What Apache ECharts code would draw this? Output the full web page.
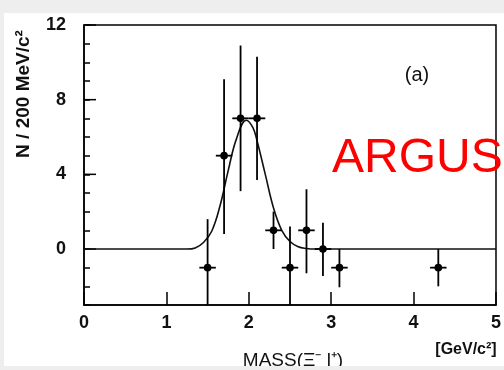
<!DOCTYPE html>
<html><head><meta charset="utf-8">
<script src="https://cdn.jsdelivr.net/npm/echarts@6/dist/echarts.min.js"></script>
<style>
html,body{margin:0;padding:0;background:#eeeeee;overflow:hidden;}
#paper{position:absolute;left:4px;top:13px;width:500px;height:353px;background:#fff;}
#c{position:absolute;left:0;top:0;width:504px;height:370px;}
#strip{position:absolute;left:0;top:366px;width:504px;height:4px;background:#eeeeee;}
</style>
</head><body>
<div id="paper"></div><div id="c"></div><div id="strip"></div>
<script>
// Data points: mass bin centres, counts, errors
const massX   = [1.5, 1.7, 1.9, 2.1, 2.3, 2.5, 2.7, 2.9, 3.1, 4.3];
const counts  = [-1,  5,   7,   7,   1,   -1,  1,   0,   -1,  -1];
const errUp   = [2.6, 4.1, 3.9, 3.3, 1.0, 2.2, 2.2, 1.4, 1.0, 1.0];
const errDown = [2.6, 4.2, 3.9, 3.3, 1.0, 2.2, 2.3, 1.45,1.05,1.0];
const binHalf = [0.1, 0.1, 0.1, 0.1, 0.1, 0.1, 0.1, 0.1, 0.1, 0.1];
// Fit curve
const fitX = [0, 1.25, 1.35, 1.45, 1.55, 1.65, 1.75, 1.85, 1.97, 2.05, 2.1, 2.2, 2.3, 2.4, 2.5, 2.6, 2.7, 2.8, 5];
const fitY = [0, 0.0,  0.06, 0.35, 0.95, 2.3,  4.2,  5.9,  6.9,  6.5,  5.8, 4.0, 2.2, 1.0, 0.4, 0.12,0.03,0,   0];
// Axes
const xTickLabels = [0, 1, 2, 3, 4, 5];
const yTickLabels = [0, 4, 8, 12];
const yMin = -3, yMax = 12;

const chart = echarts.init(document.getElementById('c'), null, {renderer: 'canvas'});
const font = '"Liberation Sans", Arial, sans-serif';
chart.setOption({
  backgroundColor: 'transparent',
  animation: false,
  grid: {left: 84, right: 4, top: 25, bottom: 65, show: true, borderColor: '#000', borderWidth: 1.5, backgroundColor: 'transparent'},
  xAxis: {
    type: 'value', min: 0, max: 5, interval: 1,
    axisLine: {show: true, onZero: false, lineStyle: {color: '#000', width: 1.5}},
    axisTick: {show: true, inside: true, length: 13, lineStyle: {color: '#000', width: 1.5}},
    axisLabel: {show: true, color: '#111', fontSize: 18, fontWeight: 'bold', fontFamily: font, margin: 9, showMaxLabel: true, showMinLabel: true,
      formatter: v => xTickLabels.includes(v) ? String(v) : ''},
    splitLine: {show: false}
  },
  yAxis: {
    type: 'value', min: yMin, max: yMax, interval: 1,
    axisLine: {show: true, lineStyle: {color: '#000', width: 1.5}},
    axisTick: {show: true, inside: true, length: 6, lineStyle: {color: '#000', width: 1.5}},
    axisLabel: {show: true, color: '#111', fontSize: 18, fontWeight: 'bold', fontFamily: font, margin: 18,
      formatter: v => yTickLabels.includes(v) ? String(v) : ''},
    splitLine: {show: false}
  },
  series: [
    {
      type: 'custom', name: 'majorTicks', silent: true,
      data: yTickLabels.map(v => [0, v]),
      renderItem: (params, api) => {
        const p = api.coord([api.value(0), api.value(1)]);
        return {type: 'line', shape: {x1: p[0], y1: p[1], x2: p[0] + 12, y2: p[1]}, style: {stroke: '#000', lineWidth: 1.5}};
      }
    },
    {
      type: 'line', name: 'fit', data: fitX.map((x, i) => [x, fitY[i]]),
      smooth: 0.4, showSymbol: false, symbol: 'none',
      lineStyle: {color: '#111', width: 1.6}, z: 3
    },
    {
      type: 'custom', name: 'data', z: 4,
      data: massX.map((x, i) => [x, counts[i], errDown[i], errUp[i], binHalf[i]]),
      renderItem: (params, api) => {
        const x = api.value(0), y = api.value(1), ed = api.value(2), eu = api.value(3), hw = api.value(4);
        const c = api.coord([x, y]);
        const lo = api.coord([x, Math.max(y - ed, yMin)]);
        const hi = api.coord([x, Math.min(y + eu, yMax)]);
        const l = api.coord([x - hw, y]);
        const r = api.coord([x + hw, y]);
        const st = {stroke: '#000', lineWidth: 1.8};
        return {type: 'group', children: [
          {type: 'line', shape: {x1: lo[0], y1: lo[1], x2: hi[0], y2: hi[1]}, style: st},
          {type: 'line', shape: {x1: l[0], y1: l[1], x2: r[0], y2: r[1]}, style: st},
          {type: 'circle', shape: {cx: c[0], cy: c[1], r: 3.8}, style: {fill: '#000'}}
        ]};
      }
    }
  ],
  graphic: [
    {type: 'text', x: 24, y: 94, rotation: Math.PI / 2,
      style: {text: 'N / 200 MeV/c²', fontSize: 19, fontWeight: 'bold', fontFamily: font, fill: '#111', align: 'center', verticalAlign: 'middle'}},
    {type: 'text', x: 417, y: 75, style: {text: '(a)', fontSize: 20, fontFamily: font, fill: '#111', align: 'center', verticalAlign: 'middle'}},
    {type: 'text', x: 332, y: 159, style: {text: 'ARGUS', fontSize: 48, fontFamily: font, fill: '#ff0000', align: 'left', verticalAlign: 'middle'}},
    {type: 'text', x: 293, y: 361, style: {text: 'MASS(Ξ⁻ l⁺)', fontSize: 19, fontFamily: font, fill: '#111', align: 'center', verticalAlign: 'middle'}},
    {type: 'text', x: 466, y: 350, style: {text: '[GeV/c²]', fontSize: 16, fontWeight: 'bold', fontFamily: font, fill: '#111', align: 'center', verticalAlign: 'middle'}}
  ]
});
</script>
</body></html>
